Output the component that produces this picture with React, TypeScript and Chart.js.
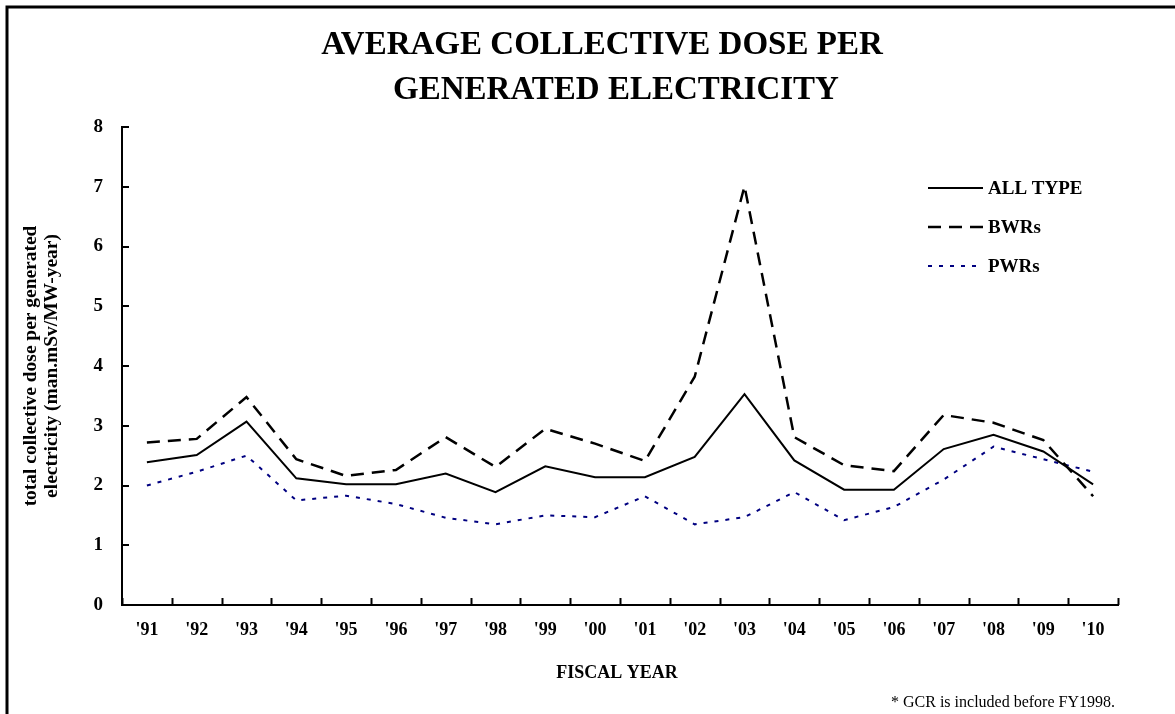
import React, { useEffect, useRef } from "react";
import { Chart, registerables } from "chart.js";

Chart.register(...registerables);

const CATEGORIES = ["'91", "'92", "'93", "'94", "'95", "'96", "'97", "'98", "'99", "'00", "'01", "'02", "'03", "'04", "'05", "'06", "'07", "'08", "'09", "'10"];
const ALL_TYPE = [2.39, 2.51, 3.07, 2.12, 2.02, 2.02, 2.2, 1.89, 2.32, 2.14, 2.14, 2.48, 3.53, 2.42, 1.93, 1.93, 2.61, 2.85, 2.57, 2.02];
const BWRS = [2.72, 2.78, 3.48, 2.44, 2.16, 2.26, 2.81, 2.31, 2.95, 2.7, 2.41, 3.82, 7.01, 2.81, 2.34, 2.24, 3.18, 3.05, 2.76, 1.82];
const PWRS = [2.0, 2.23, 2.5, 1.75, 1.83, 1.69, 1.46, 1.35, 1.5, 1.47, 1.82, 1.35, 1.47, 1.89, 1.42, 1.64, 2.1, 2.65, 2.44, 2.23];
const TITLE_LINES = ["AVERAGE COLLECTIVE DOSE PER", "GENERATED ELECTRICITY"];
const Y_TITLE_LINES = ["total collective dose per generated", "electricity (man.mSv/MW-year)"];
const X_TITLE = "FISCAL YEAR";
const FOOTNOTE = "* GCR is included before FY1998.";
const LEGEND_LABELS = ["ALL TYPE", "BWRs", "PWRs"];

const W = 1175;
const H = 714;
const SERIF = '"Liberation Serif", "Times New Roman", serif';

const decorPlugin = {
  id: "decor",
  afterDraw(chart: any) {
    const ctx = chart.ctx as CanvasRenderingContext2D;
    const xs = chart.scales.x;
    const ys = chart.scales.y;
    ctx.save();
    // outer frame (left and top)
    ctx.strokeStyle = "#000";
    ctx.lineWidth = 3;
    ctx.beginPath();
    ctx.moveTo(7, H);
    ctx.lineTo(7, 7);
    ctx.lineTo(W, 7);
    ctx.stroke();

    // inward tick marks
    ctx.lineWidth = 2;
    ctx.beginPath();
    for (let i = 0; i <= CATEGORIES.length; i++) {
      const x = Math.round(xs.getPixelForValue(i - 0.5)) + 0.5;
      ctx.moveTo(x, ys.bottom);
      ctx.lineTo(x, ys.bottom - 7);
    }
    for (let v = 1; v <= 8; v++) {
      const y = Math.round(ys.getPixelForValue(v));
      ctx.moveTo(xs.left, y);
      ctx.lineTo(xs.left + 7, y);
    }
    ctx.stroke();

    // title
    ctx.fillStyle = "#000";
    ctx.textAlign = "center";
    ctx.textBaseline = "middle";
    ctx.font = `bold 33px ${SERIF}`;
    ctx.fillText(TITLE_LINES[0], 602, 45);
    ctx.fillText(TITLE_LINES[1], 616, 90);

    // y axis title
    ctx.save();
    ctx.translate(0, (ys.top + ys.bottom) / 2);
    ctx.rotate(-Math.PI / 2);
    ctx.scale(1.08, 1);
    ctx.font = `bold 18px ${SERIF}`;
    ctx.fillText(Y_TITLE_LINES[0], 0, 31);
    ctx.fillText(Y_TITLE_LINES[1], 0, 52);
    ctx.restore();

    // x axis title
    ctx.font = `bold 18px ${SERIF}`;
    ctx.fillText(X_TITLE, 617, 673);

    // footnote
    ctx.textAlign = "right";
    ctx.font = `16px ${SERIF}`;
    ctx.fillText(FOOTNOTE, 1115, 703);

    // legend
    const styles = [
      { color: "#000", dash: [] as number[], width: 2 },
      { color: "#000", dash: [13, 8], width: 2.5 },
      { color: "#000080", dash: [4, 7], width: 2 },
    ];
    const ly = [188, 227, 266];
    ctx.textAlign = "left";
    ctx.font = `bold 19px ${SERIF}`;
    for (let i = 0; i < 3; i++) {
      ctx.strokeStyle = styles[i].color;
      ctx.lineWidth = styles[i].width;
      ctx.setLineDash(styles[i].dash);
      ctx.beginPath();
      ctx.moveTo(928, ly[i]);
      ctx.lineTo(983, ly[i]);
      ctx.stroke();
      ctx.setLineDash([]);
      ctx.fillStyle = "#000";
      ctx.fillText(LEGEND_LABELS[i], 988, ly[i] + 1);
    }
    ctx.restore();
  },
};

export default function App() {
  const ref = useRef<HTMLCanvasElement>(null);
  useEffect(() => {
    document.body.style.margin = "0";
    const canvas = ref.current!;
    const chart = new Chart(canvas, {
      type: "line",
      data: {
        labels: CATEGORIES,
        datasets: [
          { label: LEGEND_LABELS[0], data: ALL_TYPE, borderColor: "#000", borderWidth: 2, pointRadius: 0, tension: 0, fill: false },
          { label: LEGEND_LABELS[1], data: BWRS, borderColor: "#000", borderWidth: 2.5, borderDash: [13, 8], pointRadius: 0, tension: 0, fill: false },
          { label: LEGEND_LABELS[2], data: PWRS, borderColor: "#000080", borderWidth: 2, borderDash: [4, 7], pointRadius: 0, tension: 0, fill: false },
        ],
      },
      options: {
        responsive: false,
        animation: false,
        devicePixelRatio: 1,
        layout: { padding: { left: 0, top: 127, right: 57, bottom: 0 } },
        plugins: { legend: { display: false }, title: { display: false }, tooltip: { enabled: false } },
        scales: {
          x: {
            type: "category",
            offset: true,
            grid: { display: false, drawTicks: false },
            border: { display: true, color: "#000", width: 2 },
            ticks: { color: "#000", padding: 15, maxRotation: 0, autoSkip: false, font: { family: SERIF, weight: "bold", size: 18 } },
            afterFit(scale: any) { scale.height = H - 605; },
          },
          y: {
            min: 0,
            max: 8,
            grid: { display: false, drawTicks: false },
            border: { display: true, color: "#000", width: 2 },
            ticks: { stepSize: 1, color: "#000", padding: 19, font: { family: SERIF, weight: "bold", size: 19 } },
            afterFit(scale: any) { scale.width = 122; },
          },
        },
      },
      plugins: [decorPlugin],
    } as any);
    return () => chart.destroy();
  }, []);
  return (
    <div style={{ position: "fixed", left: 0, top: 0, width: W, height: H, background: "#fff" }}>
      <canvas ref={ref} width={W} height={H} style={{ display: "block", width: W, height: H }} />
    </div>
  );
}
